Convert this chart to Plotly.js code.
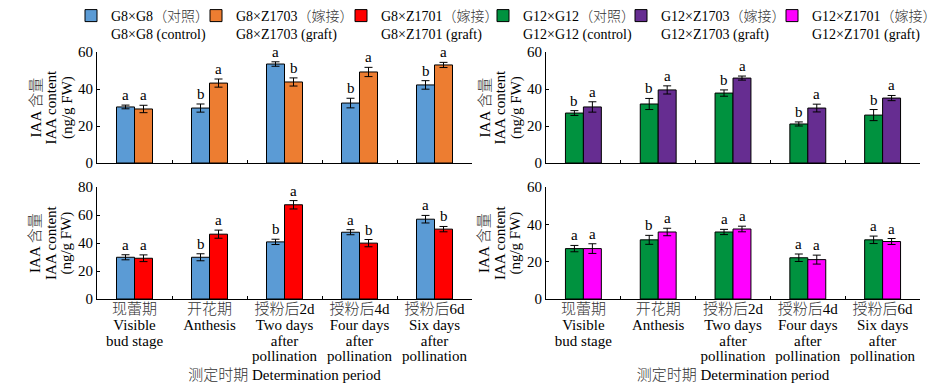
<!DOCTYPE html>
<html><head><meta charset="utf-8">
<script src="https://cdn.plot.ly/plotly-3.0.1.min.js"></script>
<style>html,body{margin:0;padding:0;background:#fff}</style>
</head><body><div id="chart" style="width:943px;height:389px"></div>
<script>
// ---------- data ----------
const categories = ['现蕾期', '开花期', '授粉后2d', '授粉后4d', '授粉后6d'];
const categoriesEn = [['Visible', 'bud stage'], ['Anthesis'], ['Two days', 'after', 'pollination'], ['Four days', 'after', 'pollination'], ['Six days', 'after', 'pollination']];

const seriesNamesZh = ['G8×G8（对照）', 'G8×Z1703（嫁接）', 'G8×Z1701（嫁接）', 'G12×G12（对照）', 'G12×Z1703（嫁接）', 'G12×Z1701（嫁接）'];
const seriesNamesEn = ['G8×G8 (control)', 'G8×Z1703 (graft)', 'G8×Z1701 (graft)', 'G12×G12 (control)', 'G12×Z1703 (graft)', 'G12×Z1701 (graft)'];

// top-left panel
const g8CtrlTop = [30.3, 29.7, 53.5, 32.4, 42.2];
const g8CtrlTopErr = [1.0, 2.2, 1.2, 2.6, 2.3];
const g8CtrlTopSig = ['a', 'b', 'a', 'b', 'b'];
const g8Z1703 = [29.2, 43.2, 43.8, 49.2, 53.0];
const g8Z1703Err = [2.0, 2.2, 2.2, 2.5, 1.4];
const g8Z1703Sig = ['a', 'a', 'b', 'a', 'a'];

// bottom-left panel
const g8CtrlBot = [29.8, 29.8, 40.8, 47.7, 57.0];
const g8CtrlBotErr = [1.8, 2.5, 1.9, 1.8, 2.7];
const g8CtrlBotSig = ['a', 'b', 'b', 'a', 'a'];
const g8Z1701 = [29.1, 46.3, 67.3, 39.9, 49.9];
const g8Z1701Err = [2.4, 2.9, 3.0, 2.6, 1.9];
const g8Z1701Sig = ['a', 'a', 'a', 'b', 'b'];

// top-right panel
const g12CtrlTop = [27.0, 31.9, 37.8, 21.1, 25.9];
const g12CtrlTopErr = [1.3, 3.0, 1.7, 1.1, 3.0];
const g12CtrlTopSig = ['b', 'b', 'b', 'b', 'b'];
const g12Z1703 = [30.3, 39.5, 45.9, 29.7, 35.1];
const g12Z1703Err = [2.8, 2.2, 1.1, 2.1, 1.4];
const g12Z1703Sig = ['a', 'a', 'a', 'a', 'a'];

// bottom-right panel
const g12CtrlBot = [27.0, 31.7, 35.9, 22.1, 31.7];
const g12CtrlBotErr = [1.7, 2.4, 1.4, 2.0, 2.0];
const g12CtrlBotSig = ['a', 'b', 'a', 'a', 'a'];
const g12Z1701 = [27.0, 35.9, 37.5, 21.1, 30.8];
const g12Z1701Err = [2.6, 2.0, 1.5, 2.4, 1.6];
const g12Z1701Sig = ['a', 'a', 'a', 'a', 'a'];

const yTitleLines = ['IAA 含量', 'IAA content', '(ng/g FW)'];
const xTitle = '测定时期 Determination period';

// ---------- style ----------
const colors = ['#5B9BD5', '#ED7D31', '#FF0000', '#00923F', '#662D91', '#FF00FF'];
const FONT = 'Liberation Serif, Noto Sans CJK SC, serif';
const W = 943, H = 389;
const light = t => t.replace(/[\u3000-\u9fff\uff00-\uffef]+/g, m => `<span style="font-weight:300;fill:#333">${m}</span>`);
const span = (t, s) => `<span style="font-size:${s}px">${light(t)}</span>`;
const lines = (arr, s) => arr.map(t => span(t, s)).join('<br>');

const tickText = categories.map((c, i) => lines([c].concat(categoriesEn[i]), 15));

const panels = [
  {xa: 'x',  ya: 'y',  l: 97,  r: 472, b: 163, t: 52,  max: 60, labels: false},
  {xa: 'x2', ya: 'y2', l: 546, r: 920, b: 163, t: 52,  max: 60, labels: false},
  {xa: 'x3', ya: 'y3', l: 97,  r: 472, b: 299, t: 187, max: 80, labels: true},
  {xa: 'x4', ya: 'y4', l: 546, r: 920, b: 299, t: 187, max: 60, labels: true}
];
const yTitleX = [51, 500, 51, 500];

const series = [
  {p: 0, k: 0, y: g8CtrlTop, e: g8CtrlTopErr, s: g8CtrlTopSig, leg: true, side: -1},
  {p: 0, k: 1, y: g8Z1703, e: g8Z1703Err, s: g8Z1703Sig, leg: true, side: 1},
  {p: 2, k: 0, y: g8CtrlBot, e: g8CtrlBotErr, s: g8CtrlBotSig, leg: false, side: -1},
  {p: 2, k: 2, y: g8Z1701, e: g8Z1701Err, s: g8Z1701Sig, leg: true, side: 1},
  {p: 1, k: 3, y: g12CtrlTop, e: g12CtrlTopErr, s: g12CtrlTopSig, leg: true, side: -1},
  {p: 1, k: 4, y: g12Z1703, e: g12Z1703Err, s: g12Z1703Sig, leg: true, side: 1},
  {p: 3, k: 3, y: g12CtrlBot, e: g12CtrlBotErr, s: g12CtrlBotSig, leg: false, side: -1},
  {p: 3, k: 5, y: g12Z1701, e: g12Z1701Err, s: g12Z1701Sig, leg: true, side: 1}
];

const legendNames = ['legend', 'legend2', 'legend3', 'legend4', 'legend5', 'legend6'];
const legendTextStart = [105, 230, 375, 517, 655, 806];

const traces = series.map(sr => {
  const pn = panels[sr.p];
  return {
    type: 'bar', x: categories, y: sr.y,
    xaxis: pn.xa, yaxis: pn.ya,
    name: span(seriesNamesZh[sr.k], 14) + '<br>' + span(seriesNamesEn[sr.k], 14),
    legend: legendNames[sr.k],
    showlegend: sr.leg,
    offsetgroup: String(sr.side),
    marker: {color: colors[sr.k], line: {color: '#000', width: 1}},
    error_y: {type: 'data', array: sr.e, visible: true, color: '#000', thickness: 1, width: 4},
    hoverinfo: 'x+y'
  };
});

const annotations = [];
series.forEach(sr => {
  const pn = panels[sr.p];
  sr.y.forEach((v, i) => {
    annotations.push({
      xref: pn.xa, yref: pn.ya, x: categories[i], y: v + sr.e[i],
      text: sr.s[i], showarrow: false, yanchor: 'bottom', xanchor: 'center',
      xshift: sr.side * 9, yshift: 0, font: {family: FONT, size: 15, color: '#000'}
    });
  });
});
panels.forEach((pn, i) => {
  annotations.push({
    xref: 'paper', yref: 'paper', x: yTitleX[i] / W, y: 1 - (pn.b + pn.t) / 2 / H,
    text: lines(yTitleLines, 15), textangle: -90, showarrow: false,
    xanchor: 'center', yanchor: 'middle',
    font: {family: FONT, size: 12, color: '#000'}
  });
});

const layout = {
  width: W, height: H,
  margin: {l: 0, r: 0, t: 0, b: 0},
  paper_bgcolor: '#fff', plot_bgcolor: '#fff',
  font: {family: FONT, size: 15, color: '#000'},
  barmode: 'group', bargap: 0.52, bargroupgap: 0,
  annotations: annotations
};

legendNames.forEach((ln, k) => {
  layout[ln] = {
    x: (legendTextStart[k] - 34) / W, xanchor: 'left',
    y: 1, yanchor: 'top', valign: 'top',
    orientation: 'v', bgcolor: 'rgba(0,0,0,0)', borderwidth: 0,
    font: {family: FONT, size: 14, color: '#000'},
    itemwidth: 30, itemclick: false, itemdoubleclick: false
  };
});

panels.forEach((pn, i) => {
  const n = i === 0 ? '' : String(i + 1);
  layout['xaxis' + n] = {
    domain: [pn.l / W, pn.r / W], anchor: 'y' + n,
    type: 'category', range: [-0.5, 4.5], fixedrange: true,
    showline: true, linecolor: '#000', linewidth: 1, mirror: false,
    ticks: 'inside', ticklen: 3, tickwidth: 1, tickcolor: '#000', tickson: 'boundaries',
    showgrid: false, zeroline: false,
    showticklabels: pn.labels, tickangle: 0,
    tickmode: 'array', tickvals: categories, ticktext: tickText,
    tickfont: {family: FONT, size: 12, color: '#000'},
    title: pn.labels ? {text: light(xTitle), font: {family: FONT, size: 15, color: '#000'}, standoff: 6} : {text: ''}
  };
  layout['yaxis' + n] = {
    domain: [1 - pn.b / H, 1 - pn.t / H], anchor: 'x' + n,
    range: [0, pn.max], dtick: 20, fixedrange: true,
    showline: true, linecolor: '#000', linewidth: 1,
    ticks: 'inside', ticklen: 3, tickwidth: 1, tickcolor: '#000',
    showgrid: false, zeroline: false,
    tickfont: {family: FONT, size: 15, color: '#000'},
    title: {text: ''}
  };
});

Plotly.newPlot('chart', traces, layout, {displayModeBar: false});
</script>
</body></html>
